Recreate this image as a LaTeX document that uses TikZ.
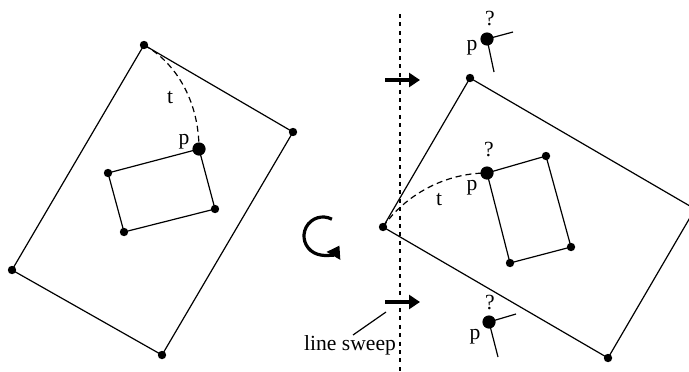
\documentclass[tikz,border=0pt]{standalone}
\usepackage{fontspec}
\setmainfont{Liberation Serif}
\usetikzlibrary{arrows.meta}

\begin{document}
\begin{tikzpicture}[x=0.5pt, y=0.5pt, line width=0.6pt,
  font=\fontsize{10.8}{13}\selectfont,
  vtx/.style={fill=black},
  lbl/.style={inner sep=0pt}]
  \useasboundingbox (0,0) rectangle (689,371);
  % left polygon with hole
  \coordinate (A) at (144,326);
  \coordinate (B) at (293,239);
  \coordinate (C) at (162,16);
  \coordinate (D) at (12,101);
  \coordinate (P) at (199,222);
  \coordinate (Q) at (215,162);
  \coordinate (R) at (124,139);
  \coordinate (S) at (108,198);
  \draw (A) -- (B) -- (C) -- (D) -- cycle;
  \draw (P) -- (Q) -- (R) -- (S) -- cycle;
  \draw[dashed, dash pattern=on 3pt off 2pt] (A) .. controls (175,309) and (199,271) .. (P);
  \foreach \v in {A,B,C,D,Q,R,S}
    \fill[vtx] (\v) circle (2.1pt);
  \fill[vtx] (P) circle (3.3pt);
  \node[lbl] (tl) at (170,273) {t};
  \node[lbl] (pl) at (184,229) {p};

  % rotation
  \coordinate (rot) at (323,135);
  \draw[line width=1.6pt, -{Triangle[length=6pt, width=7.5pt]}]
    ([shift={(62:9.5pt)}]rot) arc[start angle=62, end angle=330, radius=9.5pt];

  % sweep line
  \coordinate (sw1) at (400,357);
  \coordinate (sw2) at (400,0);
  \draw[line width=1.1pt, dash pattern=on 2pt off 2.2pt] (sw1) -- (sw2);
  \coordinate (a1) at (385,291);
  \coordinate (a2) at (420,291);
  \coordinate (b1) at (385,69);
  \coordinate (b2) at (420,69);
  \draw[line width=1.6pt, -{Triangle[length=5.5pt, width=7pt]}] (a1) -- (a2);
  \draw[line width=1.6pt, -{Triangle[length=5.5pt, width=7pt]}] (b1) -- (b2);
  \node[lbl] (sweep) at (350,26) {line sweep};
  \coordinate (lead) at (386,59);
  \draw (353,36) -- (lead);

  % right polygon with hole
  \coordinate (E) at (470,293);
  \coordinate (F) at (383,144);
  \coordinate (G) at (608,13);
  \coordinate (H) at (695,162);
  \coordinate (P2) at (487,198);
  \coordinate (T2) at (546,215);
  \coordinate (U2) at (571,124);
  \coordinate (V2) at (510,108);
  \draw (E) -- (H) -- (G) -- (F) -- cycle;
  \draw (P2) -- (T2) -- (U2) -- (V2) -- cycle;
  \draw[dashed, dash pattern=on 3pt off 2pt] (F) .. controls (405,176) and (445,198) .. (P2);
  \foreach \v in {E,F,G,T2,U2,V2}
    \fill[vtx] (\v) circle (2.1pt);
  \fill[vtx] (P2) circle (3.3pt);
  \node[lbl] (tr) at (439,171) {t};
  \node[lbl] (pr) at (472,183) {p};
  \node[lbl] (qr) at (489,222) {?};

  % candidate points above and below
  \coordinate (Pu) at (487,332);
  \draw (Pu) -- (513,339);
  \draw (Pu) -- (494,299);
  \fill[vtx] (Pu) circle (3.3pt);
  \node[lbl] (pu) at (472,323) {p};
  \node[lbl] (qu) at (490,352) {?};

  \coordinate (Pd) at (489,49);
  \draw (Pd) -- (516,57);
  \draw (Pd) -- (498,14);
  \fill[vtx] (Pd) circle (3.3pt);
  \node[lbl] (pd) at (475,34) {p};
  \node[lbl] (qd) at (490,69) {?};
\end{tikzpicture}
\end{document}
